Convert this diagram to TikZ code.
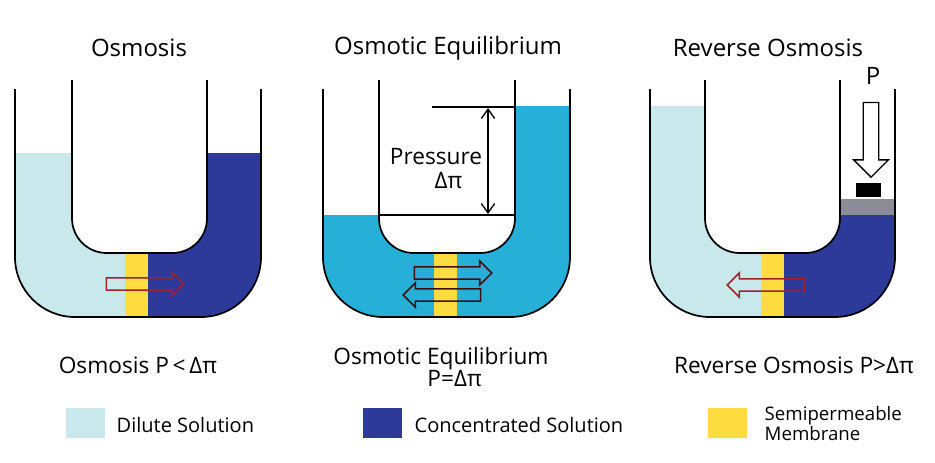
\documentclass[tikz,border=0pt]{standalone}
\usepackage{fontspec}
\setmainfont{Open Sans}
\usetikzlibrary{shapes.arrows,arrows.meta}
\definecolor{dil}{HTML}{C8E8EC}
\definecolor{con}{HTML}{2E3A9A}
\definecolor{mem}{HTML}{FFDD40}
\definecolor{flo}{HTML}{A0202C}
\definecolor{cya}{HTML}{26B0D8}
\definecolor{pis}{HTML}{8C8C96}
\tikzset{
 tube/.style={draw=black, line width=1.3pt},
 title/.style={font=\fontsize{18}{20}\selectfont},
 capt/.style={font=\fontsize{17}{18}\selectfont, align=center},
 leg/.style={font=\fontsize{15}{16}\selectfont, anchor=west, align=left},
 flow/.style={single arrow, draw=flo, line width=1.2pt, minimum width=18pt, minimum height=58pt, inner sep=3.5pt, single arrow head extend=4pt, text height=0pt, text depth=0pt},
 flow2/.style={flow, draw=black!60!flo},
}
\newcommand{\outerU}[2]{(#1,89) [rounded corners=45pt] -- (#1,317) -- (#2,317) [sharp corners] -- (#2,89)}
\newcommand{\innerU}[2]{(#1,80) [rounded corners=26pt] -- (#1,253) -- (#2,253) [sharp corners] -- (#2,80)}
\begin{document}
\begin{tikzpicture}[x=0.75pt,y=-0.75pt]
\useasboundingbox (0,0) rectangle (935,462);
% ---------- tube 1
\begin{scope}
\clip \outerU{15}{261} -- cycle;
\fill[dil] (15,153) rectangle (125,330);
\fill[con] (125,153) rectangle (261,330);
\fill[dil] (15,153) rectangle (125,330);
\fill[mem] (125,240) rectangle (148,330);
\fill[white] \innerU{72}{207} -- cycle;
\end{scope}
\draw[tube] \outerU{15}{261};
\draw[tube] \innerU{72}{207};
\node[flow] (a1) at (142,284) {};
% ---------- tube 2
\begin{scope}
\clip \outerU{323}{570} -- cycle;
\fill[cya] (323,215) rectangle (570,330);
\fill[cya] (515,106) rectangle (570,330);
\fill[mem] (434,240) rectangle (457,330);
\fill[white] \innerU{379}{515} -- cycle;
\end{scope}
\draw[tube] \outerU{323}{570};
\draw[tube] \innerU{379}{515};
\draw[line width=1pt] (432,107) -- (515,107);
\draw[line width=1pt] (379,215) -- (515,215);
\coordinate (t2) at (488,108);
\coordinate (b2) at (488,214);
\draw[line width=1pt, {Straight Barb[length=7pt,width=10pt]}-{Straight Barb[length=7pt,width=10pt]}] (t2) -- (b2);
\node[capt] (pr) at (436,169) {Pressure\\ \hspace*{1.1em}Δπ};
\node[flow2] (a2) at (450,273) {};
\node[flow2, shape border rotate=180] (a3) at (445,295) {};
% ---------- tube 3
\begin{scope}
\clip \outerU{650}{895} -- cycle;
\fill[dil] (650,106) rectangle (772,330);
\fill[con] (772,215) rectangle (895,330);
\fill[pis] (840,199) rectangle (895,215);
\fill[mem] (761,240) rectangle (784,330);
\fill[white] \innerU{705}{840} -- cycle;
\end{scope}
\draw[tube] \outerU{650}{895};
\draw[tube] \innerU{705}{840};
\fill[black] (856,183) rectangle (881,197);
\node[flow, shape border rotate=180] (a4) at (769,285) {};
\node[single arrow, draw=black, line width=1pt, fill=white, shape border rotate=270, minimum width=26pt, minimum height=56pt, inner sep=3.5pt, single arrow head extend=5pt, text height=0pt, text depth=0pt] (pa) at (871,136) {};
\node[title] (p) at (873,76) {P};
% ---------- titles & captions
\node[title] (t1) at (139,48) {Osmosis};
\node[title] (tt2) at (448,48) {Osmotic Equilibrium};
\node[title] (t3) at (768,48) {Reverse Osmosis};
\node[capt] (c1) at (138,365) {Osmosis P\,<\,Δπ};
\node[capt, font=\fontsize{17}{17}\selectfont] (c2) at (441,367) {Osmotic Equilibrium\\ \hspace*{1.2em}P=Δπ};
\node[capt] (c3) at (794,365) {Reverse Osmosis P>Δπ};
% ---------- legend
\fill[dil] (66,408) rectangle (105,438);
\node[leg] (l1) at (112,425) {Dilute Solution};
\fill[con] (363,408) rectangle (402,438);
\node[leg] (l2) at (410,425) {Concentrated Solution};
\fill[mem] (708,408) rectangle (747,438);
\node[leg, font=\fontsize{14}{15}\selectfont] (l3) at (760,423) {Semipermeable\\Membrane};
\end{tikzpicture}
\end{document}
